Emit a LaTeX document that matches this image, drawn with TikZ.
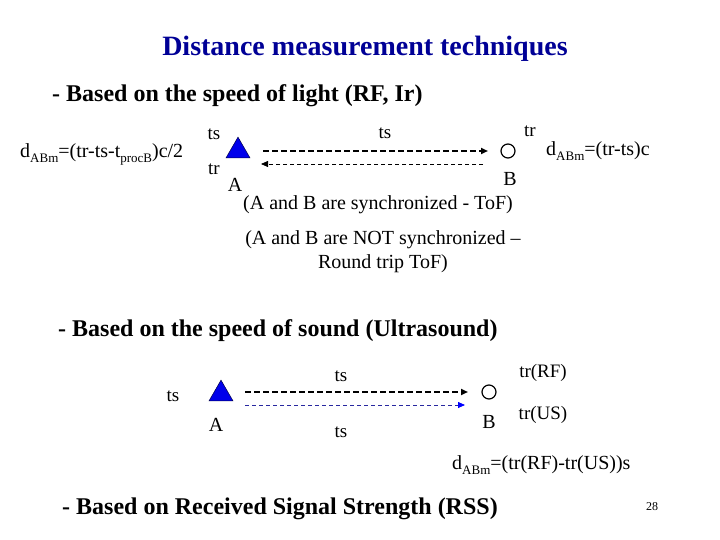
\documentclass[tikz,border=0pt]{standalone}
\usepackage{fontspec}
\setmainfont{Liberation Serif}
\usetikzlibrary{arrows.meta,shapes.geometric}
\definecolor{titleblue}{RGB}{0,0,150}
\definecolor{trifill}{RGB}{0,0,235}
\definecolor{usblue}{RGB}{40,40,160}
\newcommand{\lowsub}[1]{\raisebox{-5pt}{\fontsize{13}{13}\selectfont #1}}
\tikzset{
  lbl/.style={inner sep=0pt, font=\fontsize{19}{22}\selectfont},
  body/.style={inner sep=0pt, font=\fontsize{20}{24}\selectfont},
  head/.style={inner sep=0pt, font=\fontsize{24}{28}\selectfont\bfseries, anchor=west},
  tri/.style={regular polygon, regular polygon sides=3, minimum size=27.7pt, inner sep=0pt, fill=trifill, draw=black!70!blue, line width=0.5pt},
  rcv/.style={circle, minimum size=14pt, inner sep=0pt, draw=black, line width=1.2pt},
  fwd/.style={line width=2pt, dash pattern=on 6pt off 3pt, -{Triangle[length=7pt,width=6pt]}},
  back/.style={line width=0.8pt, dash pattern=on 4pt off 3pt},
}
\begin{document}
\begin{tikzpicture}[x=1pt,y=-1pt]
\useasboundingbox (0,0) rectangle (720,540);
% title
\node[inner sep=0pt, font=\fontsize{28}{32}\selectfont\bfseries, text=titleblue] (title) at (365,49) {Distance measurement techniques};
% section 1
\node[head] (h1) at (52,96) {- Based on the speed of light (RF, Ir)};
\node[body, anchor=base west] (f1) at (20,158) {d\lowsub{ABm}=(tr-ts-t\lowsub{procB})c/2};
\node[lbl] (ts1) at (214,134) {ts};
\node[lbl] (tr1) at (214,169) {tr};
\node[tri] (A1) at (238,151) {};
\node[body] (Al1) at (235,185) {A};
\node[lbl] (ts2) at (385,133) {ts};
\node[rcv] (B1) at (508,151) {};
\node[lbl] (tr2) at (530,131) {tr};
\node[body] (Bl1) at (510,179) {B};
\node[body, anchor=base west] (f2) at (546,156) {d\lowsub{ABm}=(tr-ts)c};
\coordinate (a1s) at (263,151);
\coordinate (a1e) at (488,151);
\coordinate (a2s) at (483,164);
\coordinate (a2e) at (261,164);
\draw[fwd] (a1s) -- (a1e);
\draw[back, -{Triangle[length=7pt,width=6pt]}] (a2s) -- (a2e);
\node[body] (sync) at (378,205) {(A and B are synchronized - ToF)};
\node[body, align=center] (nsync) at (383,252) {(A and B are NOT synchronized –\\Round trip ToF)};
% section 2
\node[head] (h2) at (58,331) {- Based on the speed of sound (Ultrasound)};
\node[lbl] (ts3) at (173,396) {ts};
\node[tri] (A2) at (221,394) {};
\node[body] (Al2) at (216,425) {A};
\node[lbl] (ts4) at (341,376) {ts};
\node[lbl] (ts5) at (341,432) {ts};
\node[rcv] (B2) at (489,392) {};
\node[body] (Bl2) at (489,422) {B};
\node[lbl] (trrf) at (543,373) {tr(RF)};
\node[lbl] (trus) at (543,415) {tr(US)};
\coordinate (u1s) at (245,392);
\coordinate (u1e) at (468,392);
\coordinate (u2s) at (245,405);
\coordinate (u2e) at (465,405);
\draw[fwd, line width=1.8pt] (u1s) -- (u1e);
\draw[back, draw=usblue, -{Triangle[length=7pt,width=6pt,color=blue]}] (u2s) -- (u2e);
\node[body, anchor=base west] (f3) at (452,469) {d\lowsub{ABm}=(tr(RF)-tr(US))s};
% section 3
\node[head] (h3) at (62,509) {- Based on Received Signal Strength (RSS)};
\node[inner sep=0pt, font=\fontsize{12}{14}\selectfont] (pg) at (652,507) {28};
\end{tikzpicture}
\end{document}
